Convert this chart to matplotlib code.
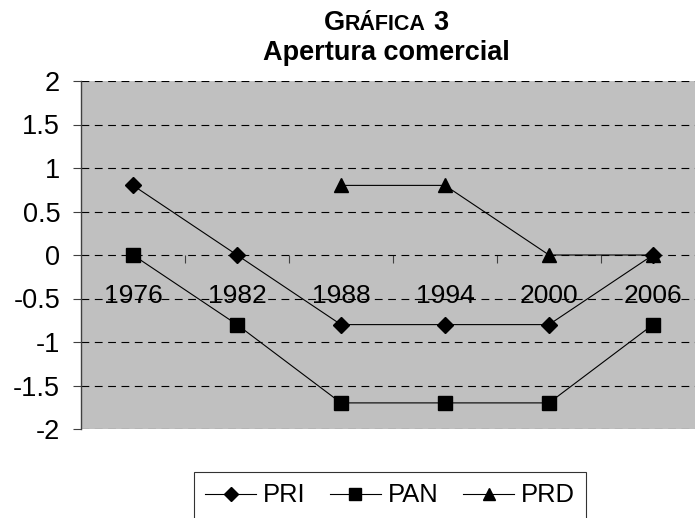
import numpy as np
import matplotlib.pyplot as plt
from matplotlib.ticker import FixedLocator, FormatStrFormatter

plt.rcParams['font.family'] = ['Liberation Sans', 'DejaVu Sans']
plt.rcParams['axes.unicode_minus'] = False

# datos
years = ['1976', '1982', '1988', '1994', '2000', '2006']
pri = [0.8, 0.0, -0.8, -0.8, -0.8, 0.0]
pan = [0.0, -0.8, -1.7, -1.7, -1.7, -0.8]
prd = [np.nan, np.nan, 0.8, 0.8, 0.0, 0.0]

W, H = 695, 518
fig = plt.figure(figsize=(W / 100, H / 100), dpi=100)
# el area de trazado se sale por la derecha, como en la imagen original
ax = fig.add_axes([81 / W, 1 - 429 / H, (705 - 81) / W, (429 - 81) / H])
ax.set_facecolor('#C0C0C0')

x = np.arange(len(years))
ax.plot(x, pri, color='black', lw=0.8, marker='D', ms=7.8, label='PRI')
ax.plot(x, pan, color='black', lw=0.8, marker='s', ms=10, label='PAN')
ax.plot(x, prd, color='black', lw=0.8, marker='^', ms=9.4, label='PRD')

ax.set_xlim(-0.5, len(years) - 0.5)
ax.set_ylim(-2, 2)
ax.set_yticks(np.arange(-2, 2.01, 0.5))
ax.yaxis.set_major_formatter(FormatStrFormatter('%g'))
ax.yaxis.grid(True, color='black', lw=0.8, linestyle=(0, (7, 5)))
ax.set_axisbelow(True)

# eje de categorias cruzando en 0
ax.spines['bottom'].set_position(('data', 0))
ax.spines['bottom'].set_visible(False)
ax.spines['top'].set_visible(False)
ax.spines['right'].set_visible(False)
ax.spines['left'].set_color('#404040')
ax.spines['left'].set_linewidth(1.0)

ax.set_xticks(x)
ax.set_xticklabels(years)
ax.xaxis.set_minor_locator(FixedLocator(np.arange(0.5, len(years) - 0.5, 1)))
ax.tick_params(axis='x', which='major', length=0, pad=21, labelsize=19)
ax.tick_params(axis='x', which='minor', length=5.8, width=0.8, color='#404040', direction='out')
ax.tick_params(axis='y', length=6, width=0.8, color='#404040', pad=9, labelsize=19.5)

# titulo: "GRÁFICA 3" en versalitas
big, small = 19.5, 15.5
r = fig.canvas.get_renderer()
parts = [('G', big), ('RÁFICA', small), ('3', big)]
txts = [fig.text(0, 1 - 30 / H, s, fontsize=fs, fontweight='bold', va='baseline') for s, fs in parts]
widths = [t.get_window_extent(r).width for t in txts]
gap = 0.28 * big * 100 / 72
total = sum(widths) + gap
cx = 386
xpos = cx - total / 2
for i, (t, w) in enumerate(zip(txts, widths)):
    t.set_x(xpos / W)
    xpos += w + (gap if i == 1 else 0)
fig.text(cx / W, 1 - 60 / H, 'Apertura comercial', fontsize=19.5, fontweight='bold',
         ha='center', va='baseline')

leg = fig.legend(loc='upper center', bbox_to_anchor=(390 / W, 1 - 472 / H), ncol=3,
                 fontsize=18.4, frameon=True, fancybox=False, edgecolor='black',
                 handlelength=2.0, handletextpad=0.27, columnspacing=0.95, borderpad=0.45,
                 borderaxespad=0, markerscale=0.85)
leg.get_frame().set_linewidth(0.8)

fig.savefig('out.png', dpi=100)
